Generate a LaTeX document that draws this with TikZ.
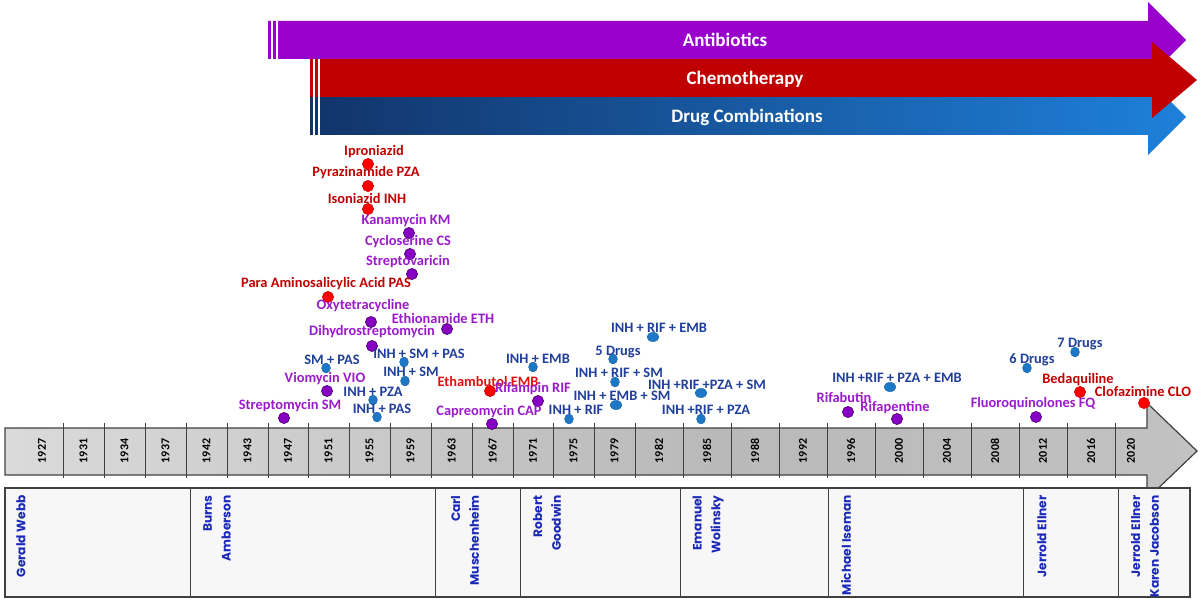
\documentclass[tikz,border=0pt]{standalone}
\usepackage{fontspec}
\setmainfont{Carlito}
\newfontfamily\namefont{Poppins}
\usetikzlibrary{shapes.geometric}
\definecolor{abpurple}{HTML}{9900CC}
\definecolor{chred}{HTML}{C00000}
\definecolor{dcdark}{HTML}{12346A}
\definecolor{dclight}{HTML}{1E80DA}
\definecolor{txred}{HTML}{C00000}
\definecolor{txbright}{HTML}{E01010}
\definecolor{txpurple}{HTML}{9A1ACB}
\definecolor{txblue}{HTML}{1F3F9A}
\definecolor{dotred}{HTML}{FF0000}
\definecolor{dotpurple}{HTML}{8600C4}
\definecolor{dotblue}{HTML}{1E78C8}
\definecolor{nameblue}{HTML}{1A28B8}
\definecolor{lineg}{HTML}{404040}
\definecolor{tlA}{HTML}{F6F6F6}
\definecolor{tlB}{HTML}{B9B9B9}
\definecolor{tlC}{HTML}{CDCDCD}
\pgfdeclarehorizontalshading{tlshade}{100bp}{color(0bp)=(tlA); color(55bp)=(tlB); color(100bp)=(tlC)}
\newcommand\tbdrug[8]{%
  \node[#6] (t#1) at (#2,#3) {#8};
  \node[#7] (d#1) at (#4,#5) {};
}
\begin{document}
\begin{tikzpicture}[x=0.5pt,y=-0.5pt,
  barlabel/.style={text=white,font=\fontsize{9.5}{11}\selectfont\bfseries,inner sep=0},
  lbred/.style={text=txred,font=\fontsize{7.2}{8}\selectfont\bfseries,inner sep=0},
  lbbright/.style={text=txbright,font=\fontsize{7.2}{8}\selectfont\bfseries,inner sep=0},
  lbpurple/.style={text=txpurple,font=\fontsize{7.2}{8}\selectfont\bfseries,inner sep=0},
  lbblue/.style={text=txblue,font=\fontsize{7.2}{8}\selectfont\bfseries,inner sep=0},
  reddot/.style={circle,fill=dotred,draw=dotred!80!black,line width=0.3pt,minimum size=5.6pt,inner sep=0},
  purpledot/.style={circle,fill=dotpurple,draw=dotpurple!55!black,line width=0.3pt,minimum size=5.6pt,inner sep=0},
  bluedot/.style={ellipse,fill=dotblue,draw=dotblue!80!black,line width=0.2pt,minimum width=4.4pt,minimum height=5pt,inner sep=0},
  bluewide/.style={ellipse,fill=dotblue,draw=dotblue!80!black,line width=0.2pt,minimum width=6pt,minimum height=4.6pt,inner sep=0},
  yearlbl/.style={rotate=90,font=\fontsize{6}{6.5}\selectfont\bfseries,inner sep=0,text=black},
  namelbl/.style={rotate=90,anchor=east,align=right,text=nameblue,font=\namefont\fontsize{6.1}{9.4}\selectfont\bfseries,inner sep=0},
  divline/.style={draw=lineg,line width=0.5pt}
]
\useasboundingbox (0,0) rectangle (1200,599);

% ---------- top arrows ----------
\fill[abpurple] (268,21) -- (1148,21) -- (1148,2) -- (1186,40) -- (1148,78) -- (1148,59) -- (268,59) -- cycle;
\draw[white,line width=0.8pt] (272,21) -- (272,59) (277,21) -- (277,59);
\node[barlabel] (antib) at (725,40) {Antibiotics};

\shade[left color=dcdark,right color=dclight] (310,97) -- (1148,97) -- (1148,79) -- (1186,117) -- (1148,155) -- (1148,135) -- (310,135) -- cycle;
\draw[white,line width=0.8pt] (314,97) -- (314,135) (319,97) -- (319,135);
\node[barlabel] (drugc) at (747,117) {Drug Combinations};

\fill[chred] (310,59) -- (1152,59) -- (1152,42) -- (1197,80) -- (1152,118) -- (1152,97) -- (310,97) -- cycle;
\draw[white,line width=0.8pt] (314,59) -- (314,97) (319,59) -- (319,97);
\node[barlabel] (chemo) at (745,79) {Chemotherapy};

% ---------- timeline arrow ----------
\path[shading=tlshade,draw=lineg,line width=0.6pt] (5,428) -- (1147,428) -- (1147,403) -- (1197,451) -- (1147,499) -- (1147,475) -- (5,475) -- cycle;
\foreach \bx in {63,104,145,186,227,268,308,349,390,431,472,513,553,594,635,683,731,779,827,875,923,971,1019,1067,1115}
  \draw[divline] (\bx,423) -- (\bx,478);
\node[yearlbl] (y1927) at (42,451) {1927};
\node[yearlbl] (y1931) at (83.5,451) {1931};
\node[yearlbl] (y1934) at (124.5,451) {1934};
\node[yearlbl] (y1937) at (165.5,451) {1937};
\node[yearlbl] (y1942) at (206.5,451) {1942};
\node[yearlbl] (y1943) at (247.5,451) {1943};
\node[yearlbl] (y1947) at (288,451) {1947};
\node[yearlbl] (y1951) at (328.5,451) {1951};
\node[yearlbl] (y1955) at (369.5,451) {1955};
\node[yearlbl] (y1959) at (410.5,451) {1959};
\node[yearlbl] (y1963) at (451.5,451) {1963};
\node[yearlbl] (y1967) at (492.5,451) {1967};
\node[yearlbl] (y1971) at (533,451) {1971};
\node[yearlbl] (y1975) at (573.5,451) {1975};
\node[yearlbl] (y1979) at (614.5,451) {1979};
\node[yearlbl] (y1982) at (659,451) {1982};
\node[yearlbl] (y1985) at (707,451) {1985};
\node[yearlbl] (y1988) at (755,451) {1988};
\node[yearlbl] (y1992) at (803,451) {1992};
\node[yearlbl] (y1996) at (851,451) {1996};
\node[yearlbl] (y2000) at (899,451) {2000};
\node[yearlbl] (y2004) at (947,451) {2004};
\node[yearlbl] (y2008) at (995,451) {2008};
\node[yearlbl] (y2012) at (1043,451) {2012};
\node[yearlbl] (y2016) at (1091,451) {2016};
\node[yearlbl] (y2020) at (1131,451) {2020};

% ---------- names box ----------
\path[fill=white!97!black,draw=lineg,line width=0.6pt] (5,488) rectangle (1190,597);
\foreach \bx in {190,435,520,680,828,1023,1118}
  \draw[divline] (\bx,488) -- (\bx,597);
\node[namelbl] (n1) at (21,495) {Gerald Webb};
\node[namelbl] (n2) at (217,495) {Burns\\Amberson};
\node[namelbl] (n3) at (465,495) {Carl\\Muschenheim};
\node[namelbl] (n4) at (547,495) {Robert\\Goodwin};
\node[namelbl] (n5) at (708,495) {Emanuel\\Wolinsky};
\node[namelbl] (n6) at (846,495) {Michael Iseman};
\node[namelbl] (n7) at (1042,495) {Jerrold Ellner};
\node[namelbl] (n8) at (1145,495) {Jerrold Ellner\\Karen Jacobson};

% ---------- drugs ----------
\tbdrug{ipro}{374}{152}{368}{164}{lbred}{reddot}{Iproniazid}
\tbdrug{pza}{366}{173}{368}{186}{lbred}{reddot}{Pyrazinamide PZA}
\tbdrug{inh}{367}{199}{368}{209}{lbred}{reddot}{Isoniazid INH}
\tbdrug{km}{406}{221}{409}{233}{lbpurple}{purpledot}{Kanamycin KM}
\tbdrug{cs}{408}{242}{410}{254}{lbpurple}{purpledot}{Cycloserine CS}
\tbdrug{stv}{408}{262}{412}{274}{lbpurple}{purpledot}{Streptovaricin}
\tbdrug{pas}{326}{284}{328}{297}{lbred}{reddot}{Para Aminosalicylic Acid PAS}
\tbdrug{oxy}{363}{306}{371}{322}{lbpurple}{purpledot}{Oxytetracycline}
\tbdrug{eth}{443}{319}{447}{329}{lbpurple}{purpledot}{Ethionamide ETH}
\tbdrug{dhs}{372}{332}{372}{346}{lbpurple}{purpledot}{Dihydrostreptomycin}
\tbdrug{smpas}{332}{360}{326}{368}{lbblue}{bluedot}{SM + PAS}
\tbdrug{inhsmpas}{419}{354}{404}{362}{lbblue}{bluedot}{INH + SM + PAS}
\tbdrug{inhsm}{411}{372}{405}{381}{lbblue}{bluedot}{INH + SM}
\tbdrug{vio}{325}{379}{327}{391}{lbpurple}{purpledot}{Viomycin VIO}
\tbdrug{inhpza}{373}{392}{373}{400}{lbblue}{bluedot}{INH + PZA}
\tbdrug{sm}{290}{406}{284}{418}{lbpurple}{purpledot}{Streptomycin SM}
\tbdrug{inhpas}{382}{409}{377}{417}{lbblue}{bluedot}{INH + PAS}
\tbdrug{emb}{488}{381}{490}{391}{lbbright}{reddot}{Ethambutol EMB}
\tbdrug{rif}{533}{389}{538}{401}{lbpurple}{purpledot}{Rifampin RIF}
\tbdrug{cap}{489}{412}{492}{424}{lbpurple}{purpledot}{Capreomycin CAP}
\tbdrug{inhemb}{538}{359}{533}{367}{lbblue}{bluedot}{INH + EMB}
\tbdrug{fived}{618}{352}{613}{359}{lbblue}{bluedot}{5 Drugs}
\tbdrug{inhrifemb}{659}{328}{653}{337}{lbblue}{bluewide}{INH + RIF + EMB}
\tbdrug{inhrifsm}{619}{373}{615}{382}{lbblue}{bluedot}{INH + RIF + SM}
\tbdrug{inhembsm}{622}{396}{616}{405}{lbblue}{bluewide}{INH + EMB + SM}
\tbdrug{inhrif}{576}{410}{569}{419}{lbblue}{bluedot}{INH + RIF}
\tbdrug{inhrifpzasm}{707}{385}{701}{393}{lbblue}{bluewide}{INH +RIF +PZA + SM}
\tbdrug{inhrifpza}{706}{410}{701}{419}{lbblue}{bluedot}{INH +RIF + PZA}
\tbdrug{inhrifpzaemb}{897}{378}{890}{387}{lbblue}{bluewide}{INH +RIF + PZA + EMB}
\tbdrug{rfb}{844}{397}{848}{412}{lbpurple}{purpledot}{Rifabutin}
\tbdrug{rfp}{895}{408}{897}{419}{lbpurple}{purpledot}{Rifapentine}
\tbdrug{sixd}{1032}{360}{1027}{368}{lbblue}{bluedot}{6 Drugs}
\tbdrug{sevend}{1080}{344}{1075}{352}{lbblue}{bluedot}{7 Drugs}
\tbdrug{fq}{1033}{404}{1036}{417}{lbpurple}{purpledot}{Fluoroquinolones FQ}
\tbdrug{bdq}{1078}{380}{1080}{392}{lbred}{reddot}{Bedaquiline}
\tbdrug{clo}{1143}{391}{1144}{403}{lbred}{reddot}{Clofazimine CLO}
\end{tikzpicture}
\end{document}
